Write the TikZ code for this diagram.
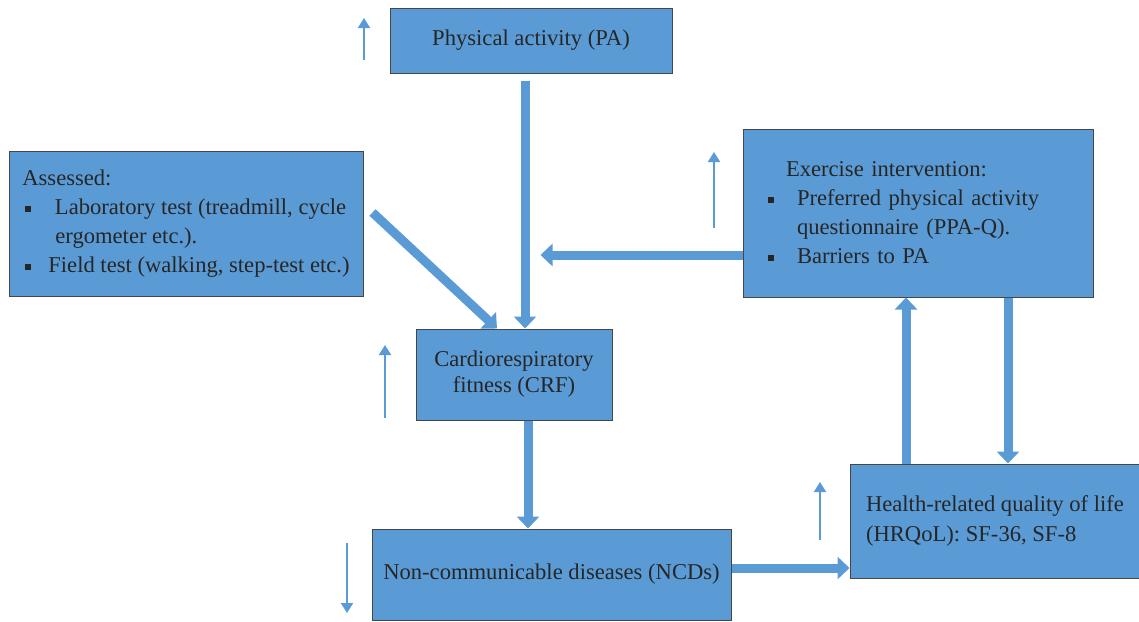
\documentclass[tikz,border=0pt]{standalone}
\usepackage{fontspec}
\setmainfont{Liberation Serif}
\usetikzlibrary{arrows.meta}
\definecolor{boxblue}{RGB}{91,155,213}
\definecolor{boxline}{RGB}{70,70,70}
\newcommand{\sqbul}{\rule[1.4pt]{2.8pt}{2.8pt}}

\begin{document}
\begin{tikzpicture}[x=0.5pt,y=-0.5pt,font=\fontsize{11.3}{14.5}\selectfont,
  box/.style={draw=boxline,line width=0.5pt,fill=boxblue,inner sep=0pt,text=black!85},
  fatarrow/.style={draw=boxblue,line width=4.5pt,-{Triangle[width=11pt,length=6pt]}},
  trendarrow/.style={draw=boxblue,line width=1pt,-{Triangle[width=6pt,length=5pt]}}]
  \useasboundingbox (0,0) rectangle (1139,621);
  % boxes
  \node[box,minimum width=141pt,minimum height=32.5pt] (pa) at (531,40.5)
    {Physical activity (PA)};
  \node[box,minimum width=177pt,minimum height=72.5pt,align=left] (assessed) at (186,223.5)
    {Assessed:\\
     \hspace*{1.5pt}\sqbul\hspace{12pt}Laboratory test (treadmill, cycle\\
     \hspace*{16.5pt}ergometer etc.).\\
     \hspace*{1.5pt}\sqbul\hspace{8.7pt}Field test (walking, step-test etc.)};
  \node[box,minimum height=84pt,text width=150pt,inner xsep=12.5pt,align=left] (exercise) at (918,213)
    {\hspace*{9pt}Exercise intervention:\\
     \sqbul\hspace{11.7pt}Preferred physical activity\\
     \hspace*{14.5pt}questionnaire (PPA-Q).\\
     \sqbul\hspace{11.7pt}Barriers to PA};
  \node[box,minimum width=98pt,minimum height=45.5pt,align=center,
    font=\fontsize{11.3}{13}\selectfont] (crf) at (514,374.5)
    {Cardiorespiratory\\fitness (CRF)};
  \node[box,minimum width=179.5pt,minimum height=45.5pt] (ncd) at (551.5,574.5)
    {Non-communicable diseases (NCDs)};
  \node[box,minimum width=145pt,minimum height=57pt,align=left,
    font=\fontsize{11.3}{15}\selectfont] (hrqol) at (995,521)
    {Health-related quality of life\\(HRQoL): SF-36, SF-8};
  % connectors
  \draw[fatarrow] ([xshift=-3pt,yshift=-3.5pt]pa.south) -- ([xshift=-3pt]pa.south |- crf.north);
  \draw[fatarrow] ([xshift=4.5pt,yshift=5.5pt]assessed.east) -- ([xshift=-8.5pt]crf.north);
  \draw[fatarrow] ([yshift=-21pt]exercise.west) -- ++(-202,0);
  \draw[fatarrow] ([xshift=7pt]crf.south) -- ([xshift=7pt]crf.south |- ncd.north);
  \draw[fatarrow] ([yshift=3.25pt]ncd.east) -- ([yshift=3.25pt]ncd.east -| hrqol.west);
  \draw[fatarrow] ([xshift=-44.5pt]hrqol.north) -- ([xshift=-44.5pt]hrqol.north |- exercise.south);
  \draw[fatarrow] ([xshift=45pt]exercise.south) -- ([xshift=45pt]exercise.south |- hrqol.north);
  % trend arrows
  \draw[trendarrow] (364,60) -- (364,18);
  \draw[trendarrow] (714,228) -- (714,152);
  \draw[trendarrow] (385,418) -- (385,345);
  \draw[trendarrow] (347,543) -- (347,613);
  \draw[trendarrow] (820,540) -- (820,482);
\end{tikzpicture}
\end{document}
